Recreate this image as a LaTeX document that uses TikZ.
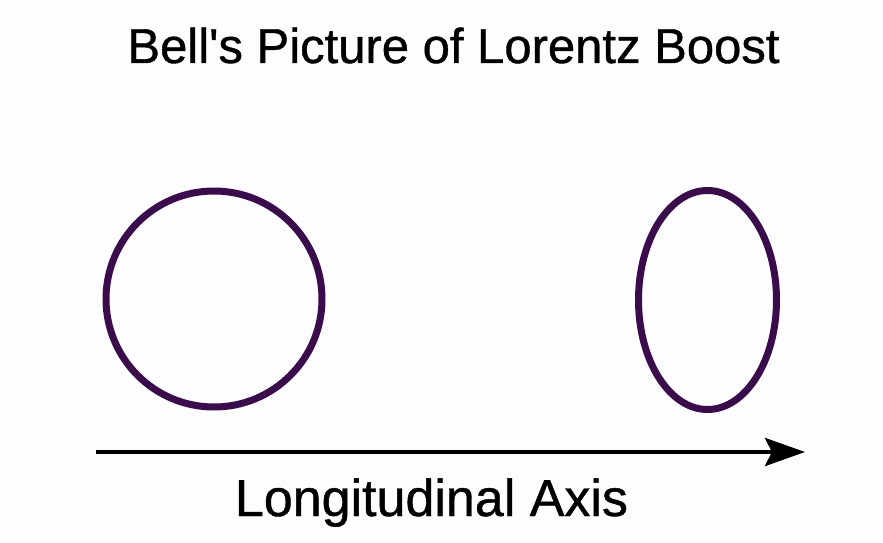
\documentclass[tikz,border=0pt]{standalone}
\usepackage{fontspec}
\newfontfamily\heavyfont{Liberation Sans}[FakeBold=0.8]
\usetikzlibrary{arrows.meta}
\definecolor{ringpurple}{HTML}{3A0C4C}
\definecolor{bgwhite}{HTML}{FDFCFE}
\begin{document}
\begin{tikzpicture}[x=1pt,y=-1pt,
  ring/.style={draw=ringpurple,line width=7pt},
  axisline/.style={line width=4.5pt,-{Stealth[length=40pt,width=28pt,inset=7pt]}},
  label/.style={inner sep=0pt,anchor=base,text=black}]
\fill[bgwhite] (0,0) rectangle (883,543);
\useasboundingbox (0,0) rectangle (883,543);
\node[label,font=\heavyfont\fontsize{49}{55}\selectfont] (title) at (453.5,63) {Bell's Picture of Lorentz Boost};
\draw[ring] (214,299) circle (108);
\draw[ring] (707.5,300) ellipse (69 and 109.5);
\coordinate (astart) at (96,452);
\coordinate (aend) at (805,452);
\draw[axisline] (astart) -- (aend);
\node[label,font=\heavyfont\fontsize{52}{58}\selectfont] (axislabel) at (431.5,516) {Longitudinal Axis};
\end{tikzpicture}
\end{document}
